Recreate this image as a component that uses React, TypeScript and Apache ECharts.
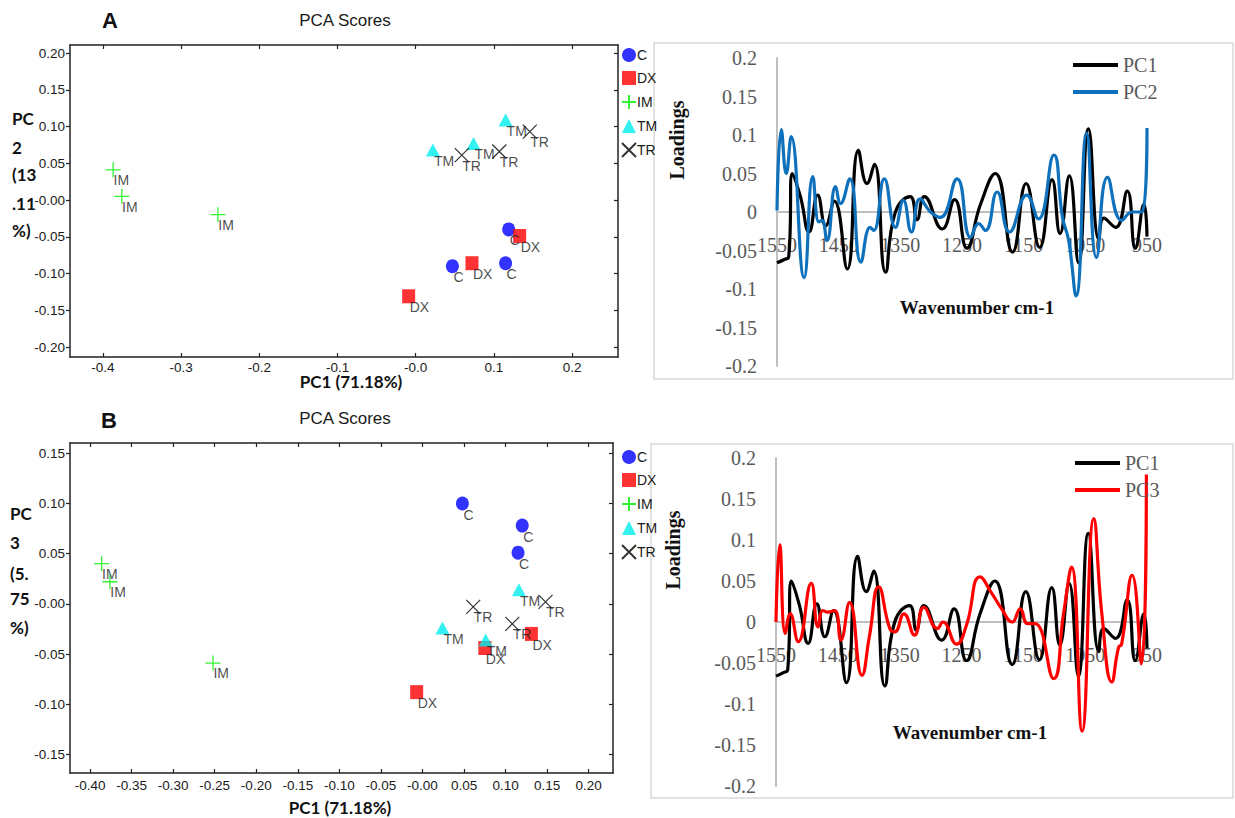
import React, { useEffect, useRef } from "react";
import * as echarts from "echarts";

// ---------- data ----------
const groups = ["C", "DX", "IM", "TM", "TR"];

// PCA scores, panel A (PC1 vs PC2)
const scoresA_C = [[0.119, -0.040], [0.047, -0.090], [0.115, -0.086]];
const scoresA_DX = [[0.133, -0.049], [0.072, -0.086], [-0.009, -0.131]];
const scoresA_IM = [[-0.387, 0.041], [-0.376, 0.005], [-0.253, -0.020]];
const scoresA_TM = [[0.115, 0.109], [0.022, 0.068], [0.074, 0.077]];
const scoresA_TR = [[0.146, 0.093], [0.059, 0.061], [0.107, 0.066]];

// PCA scores, panel B (PC1 vs PC3)
const scoresB_C = [[0.048, 0.100], [0.120, 0.078], [0.115, 0.051]];
const scoresB_DX = [[0.131, -0.030], [0.075, -0.044], [-0.007, -0.088]];
const scoresB_IM = [[-0.386, 0.040], [-0.376, 0.022], [-0.252, -0.059]];
const scoresB_TM = [[0.116, 0.014], [0.024, -0.024], [0.076, -0.036]];
const scoresB_TR = [[0.148, 0.002], [0.061, -0.003], [0.108, -0.020]];

// tick values and labels
const xTicksA = [-0.4, -0.3, -0.2, -0.1, 0, 0.1, 0.2];
const xTickLabelsA = ["-0.4", "-0.3", "-0.2", "-0.1", "-0.0", "0.1", "0.2"];
const yTicksA = [-0.2, -0.15, -0.1, -0.05, 0, 0.05, 0.1, 0.15, 0.2];
const yTickLabelsA = ["-0.20", "-0.15", "-0.10", "-0.05", "-0.00", "0.05", "0.10", "0.15", "0.20"];
const xTicksB = [-0.4, -0.35, -0.3, -0.25, -0.2, -0.15, -0.1, -0.05, 0, 0.05, 0.1, 0.15, 0.2];
const xTickLabelsB = ["-0.40", "-0.35", "-0.30", "-0.25", "-0.20", "-0.15", "-0.10", "-0.05", "-0.00", "0.05", "0.10", "0.15", "0.20"];
const yTicksB = [-0.15, -0.1, -0.05, 0, 0.05, 0.1, 0.15];
const yTickLabelsB = ["-0.15", "-0.10", "-0.05", "-0.00", "0.05", "0.10", "0.15"];
const wnTicks = [950, 1050, 1150, 1250, 1350, 1450, 1550];
const loadTicks = [-0.2, -0.15, -0.1, -0.05, 0, 0.05, 0.1, 0.15, 0.2];
const loadTickLabels = ["-0.2", "-0.15", "-0.1", "-0.05", "0", "0.05", "0.1", "0.15", "0.2"];

// Loadings (wavenumber, value)
const wnPC1 = [1550, 1539, 1531, 1525, 1512, 1498, 1484, 1471, 1457, 1436, 1418, 1404, 1392, 1374, 1358, 1334, 1323, 1311, 1282, 1262, 1242, 1220, 1196, 1168, 1146, 1124, 1104, 1091, 1076, 1061, 1045, 1028, 1020, 1001, 982, 969, 955, 950];
const loadPC1 = [-0.066, -0.062, -0.058, 0.050, 0.020, -0.026, 0.022, -0.018, 0.014, -0.074, 0.080, 0.037, 0.062, -0.078, 0.000, 0.020, -0.010, 0.020, -0.022, 0.016, -0.047, 0.010, 0.050, -0.052, 0.037, -0.046, 0.042, -0.028, 0.047, -0.066, 0.108, -0.036, -0.008, -0.020, 0.027, -0.047, 0.010, -0.032];

const wnPC2 = [1550, 1543, 1535, 1527, 1506, 1492, 1482, 1477, 1469, 1455, 1447, 1432, 1414, 1399, 1393, 1376, 1358, 1345, 1332, 1318, 1301, 1285, 1258, 1236, 1223, 1212, 1193, 1173, 1145, 1126, 1101, 1087, 1077, 1065, 1048, 1032, 1014, 991, 974, 958, 950];
const loadPC2 = [0.002, 0.107, 0.050, 0.098, -0.085, 0.046, -0.013, -0.011, -0.037, 0.033, 0.011, 0.043, -0.065, -0.020, -0.024, 0.043, -0.020, 0.015, -0.026, 0.017, 0.000, -0.007, 0.043, -0.033, -0.015, -0.024, 0.026, -0.026, 0.022, -0.009, 0.074, -0.007, -0.037, -0.109, 0.102, -0.059, 0.045, -0.011, 0.000, 0.000, 0.109];

const wnPC3 = [1550, 1544, 1535, 1527, 1514, 1493, 1482, 1474, 1466, 1455, 1445, 1431, 1411, 1399, 1384, 1366, 1358, 1343, 1326, 1311, 1289, 1280, 1258, 1242, 1220, 1201, 1185, 1168, 1155, 1143, 1131, 1101, 1085, 1072, 1055, 1036, 1023, 1007, 996, 991, 974, 959, 951];
const loadPC3 = [0.000, 0.094, -0.014, 0.010, -0.024, 0.047, -0.006, 0.014, 0.012, 0.014, -0.022, 0.024, -0.065, -0.018, 0.043, -0.008, -0.012, 0.010, -0.016, 0.018, -0.008, 0.000, -0.027, -0.004, 0.055, 0.035, 0.016, 0.000, 0.016, -0.002, -0.002, -0.069, 0.010, 0.067, -0.133, 0.126, 0.010, -0.073, -0.031, -0.027, 0.057, -0.051, 0.180];

const yLabelA = ["PC", "2", "(13", ".11", "%)"];
const yLabelB = ["PC", "3", "(5.", "75", "%)"];

// ---------- styles ----------
const PLUS = "path://M0,7.5L15,7.5M7.5,0L7.5,15";
const CROSS = "path://M0,0L14,14M14,0L0,14";
const groupStyle: Record<string, any> = {
  C: { symbol: "circle", size: [13, 14], itemStyle: { color: "#0000ff" } },
  DX: { symbol: "rect", size: [13, 14], itemStyle: { color: "#ff0000" } },
  IM: { symbol: PLUS, size: [15, 15], itemStyle: { color: "rgba(0,0,0,0)", borderColor: "#00ee00", borderWidth: 1.3 } },
  TM: { symbol: "triangle", size: [14, 13], itemStyle: { color: "#00eeee" } },
  TR: { symbol: CROSS, size: [14, 14], itemStyle: { color: "rgba(0,0,0,0)", borderColor: "#000000", borderWidth: 1.2 } },
};

const SANS = "Liberation Sans, Arial, sans-serif";
const SERIF = "Liberation Serif, Times New Roman, serif";
const AXC = "#222222";

function fmt(ticks: number[], labels: string[]) {
  return (v: number) => {
    const i = ticks.findIndex((t) => Math.abs(t - v) < 1e-6);
    return i >= 0 ? labels[i] : "";
  };
}

function scatterAxes(grid: number, xr: number[], yr: number[], xt: number[], xl: string[], yt: number[], yl: string[], xMargin: number) {
  const line = { show: true, onZero: false, lineStyle: { color: AXC, width: 1.5 } };
  const tick = (vals: number[], inside: boolean) => ({ show: true, inside, length: 4, customValues: vals, lineStyle: { color: AXC, width: 1.2 } });
  const lbl = { color: "#1a1a1a", fontFamily: SANS, fontSize: 13.5 };
  const xAxes = [
    { type: "value", gridIndex: grid, position: "bottom", min: xr[0], max: xr[1], axisLine: line, axisTick: tick(xt, true), splitLine: { show: false }, axisLabel: { ...lbl, margin: xMargin, customValues: xt, formatter: fmt(xt, xl) } },
    { type: "value", gridIndex: grid, position: "top", min: xr[0], max: xr[1], axisLine: line, axisTick: tick(xt, true), splitLine: { show: false }, axisLabel: { show: false } },
  ];
  const yAxes = [
    { type: "value", gridIndex: grid, position: "left", min: yr[0], max: yr[1], axisLine: line, axisTick: tick(yt, false), splitLine: { show: false }, axisLabel: { ...lbl, margin: 5, customValues: yt, formatter: fmt(yt, yl) } },
    { type: "value", gridIndex: grid, position: "right", min: yr[0], max: yr[1], axisLine: line, axisTick: tick(yt, true), splitLine: { show: false }, axisLabel: { show: false } },
  ];
  return { xAxes, yAxes };
}

// zeroOffset: distance from the grid bottom to the zero line (the category axis sits on y = 0)
function loadAxes(grid: number, zeroOffset: number) {
  const gl = { show: true, lineStyle: { color: "#bfbfbf", width: 2 } };
  const lbl = { color: "#595959", fontFamily: SERIF, fontSize: 20 };
  return {
    x: { type: "value", gridIndex: grid, position: "bottom", offset: -zeroOffset, min: 950, max: 1550, inverse: true, axisLine: { ...gl, onZero: false }, axisTick: { show: false }, splitLine: { show: false }, axisLabel: { ...lbl, margin: 23, customValues: wnTicks, formatter: fmt(wnTicks, wnTicks.map(String)) } },
    y: { type: "value", gridIndex: grid, min: -0.2, max: 0.2, axisLine: gl, axisTick: { show: false }, splitLine: { show: false }, axisLabel: { ...lbl, margin: 20, padding: [6, 0, 0, 0], customValues: loadTicks, formatter: fmt(loadTicks, loadTickLabels) } },
  };
}

function scatterSeries(name: string, data: number[][], xi: number, yi: number) {
  const st = groupStyle[name];
  const w = st.size[0], h = st.size[1];
  return {
    type: "scatter",
    name,
    xAxisIndex: xi,
    yAxisIndex: yi,
    data,
    symbol: st.symbol,
    symbolSize: st.size,
    itemStyle: st.itemStyle,
    emphasis: { disabled: true },
    label: {
      show: true,
      formatter: name,
      position: [w / 2 + 1, h / 2 + 11],
      align: "left",
      verticalAlign: "middle",
      color: "#1a1a1a",
      fontFamily: SANS,
      fontSize: 14,
    },
  };
}

function lineSeries(name: string, wn: number[], vals: number[], color: string, xi: number, yi: number) {
  return {
    type: "line",
    name,
    xAxisIndex: xi,
    yAxisIndex: yi,
    data: wn.map((w, i) => [w, vals[i]]),
    showSymbol: false,
    symbol: "none",
    smooth: 0.5,
    color,
    lineStyle: { color, width: 3.2 },
    emphasis: { disabled: true },
  };
}

export default function App() {
  const ref = useRef<HTMLDivElement>(null);
  useEffect(() => {
    if (!ref.current) return;
    const chart = echarts.init(ref.current, undefined, { renderer: "svg" });

    const A = scatterAxes(0, [-0.4422, 0.2588], [-0.2136, 0.2109], xTicksA, xTickLabelsA, yTicksA, yTickLabelsA, 3);
    const B = scatterAxes(1, [-0.4241, 0.2292], [-0.1686, 0.1603], xTicksB, xTickLabelsB, yTicksB, yTickLabelsB, 5);
    const LA = loadAxes(2, 154);
    const LB = loadAxes(3, 164);

    const scA = [scoresA_C, scoresA_DX, scoresA_IM, scoresA_TM, scoresA_TR];
    const scB = [scoresB_C, scoresB_DX, scoresB_IM, scoresB_TM, scoresB_TR];

    const textEl = (text: string, x: number, y: number, font: string, align = "center", fill = "#111", rotation = 0) => ({
      type: "text",
      x,
      y,
      rotation,
      style: { text, font, fill, align, verticalAlign: "middle" },
    });

    const graphics: any[] = [
      { type: "rect", shape: { x: 654, y: 43, width: 579, height: 336 }, style: { fill: "none", stroke: "#d9d9d9", lineWidth: 1.5 } },
      { type: "rect", shape: { x: 651, y: 444, width: 582, height: 354 }, style: { fill: "none", stroke: "#d9d9d9", lineWidth: 1.5 } },
      textEl("A", 110, 20, `bold 22px ${SANS}`),
      textEl("PCA Scores", 345, 20, `17px ${SANS}`, "center", "#1a1a1a"),
      textEl("B", 109, 420, `bold 22px ${SANS}`),
      textEl("PCA Scores", 345, 418, `17px ${SANS}`, "center", "#1a1a1a"),
      textEl("PC1 (71.18%)", 351, 381, `bold 17px Lato, ${SANS}`),
      textEl("PC1 (71.18%)", 340, 807, `bold 17px Lato, ${SANS}`),
      textEl("Loadings", 677, 140, `bold 20px ${SERIF}`, "center", "#111", Math.PI / 2),
      textEl("Loadings", 673, 550, `bold 20px ${SERIF}`, "center", "#111", Math.PI / 2),
      textEl("Wavenumber cm-1", 977, 307, `bold 19px ${SERIF}`),
      textEl("Wavenumber cm-1", 970, 732, `bold 19px ${SERIF}`),
    ];
    const yA = [118, 147, 174, 203, 230];
    yLabelA.forEach((t, i) => graphics.push(textEl(t, 12, yA[i], `bold 17px Lato, ${SANS}`, "left")));
    const yB = [513, 542, 573, 598, 627];
    yLabelB.forEach((t, i) => graphics.push(textEl(t, 10, yB[i], `bold 17px Lato, ${SANS}`, "left")));

    const scatterLegend = (top: number) => ({
      orient: "vertical",
      left: 621,
      top,
      padding: 0,
      data: groups,
      itemWidth: 14,
      itemHeight: 14,
      itemGap: 9,
      selectedMode: false,
      textStyle: { fontFamily: SANS, fontSize: 14, color: "#1a1a1a", padding: [0, 0, 0, -4] },
    });
    const lineLegend = (top: number, left: number, data: string[]) => ({
      orient: "vertical",
      left,
      top,
      padding: 0,
      data,
      icon: "rect",
      itemWidth: 45,
      itemHeight: 4,
      itemGap: 7,
      selectedMode: false,
      textStyle: { fontFamily: SERIF, fontSize: 20, color: "#595959", lineHeight: 20 },
    });

    chart.setOption({
      animation: false,
      backgroundColor: "#ffffff",
      grid: [
        { left: 70, top: 45, width: 548, height: 312 },
        { left: 70, top: 443, width: 543, height: 330 },
        { left: 777, top: 58, width: 370, height: 308 },
        { left: 776, top: 458, width: 371, height: 328 },
      ],
      xAxis: [...A.xAxes, ...B.xAxes, LA.x, LB.x],
      yAxis: [...A.yAxes, ...B.yAxes, LA.y, LB.y],
      legend: [
        scatterLegend(48),
        scatterLegend(450),
        lineLegend(55, 1073, ["PC1", "PC2"]),
        lineLegend(453, 1075, ["PC1", "PC3"]),
      ],
      series: [
        ...groups.map((g, i) => scatterSeries(g, scA[i], 0, 0)),
        ...groups.map((g, i) => scatterSeries(g, scB[i], 2, 2)),
        lineSeries("PC1", wnPC1, loadPC1, "#000000", 4, 4),
        lineSeries("PC2", wnPC2, loadPC2, "#0f71bb", 4, 4),
        lineSeries("PC1", wnPC1, loadPC1, "#000000", 5, 5),
        lineSeries("PC3", wnPC3, loadPC3, "#ff0000", 5, 5),
      ],
      graphic: graphics,
    });

    return () => chart.dispose();
  }, []);

  return (
    <div
      ref={ref}
      style={{ position: "absolute", left: 0, top: 0, width: 1235, height: 818, background: "#fff" }}
    />
  );
}
